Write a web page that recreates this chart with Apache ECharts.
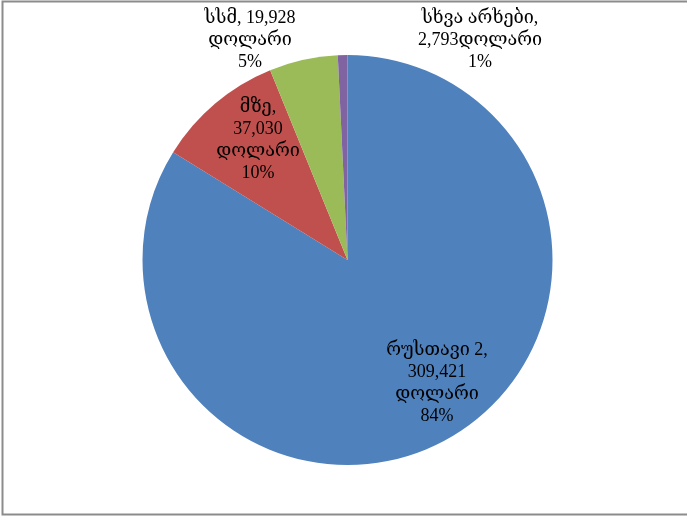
<!DOCTYPE html>
<html><head><meta charset="utf-8">
<script src="https://cdn.jsdelivr.net/npm/echarts@6/dist/echarts.min.js"></script>
<style>html,body{margin:0;padding:0;background:#fff}#c{width:687px;height:516px}</style>
</head><body><div id="c"></div>
<script>
const names = ["რუსთავი 2", "მზე", "სსმ", "სხვა არხები"];
const values = [309421, 37030, 19928, 2793];
const colors = ["#4F81BD", "#C0504D", "#9BBB59", "#8064A2"];
const currency = "დოლარი";

function fmt(v){ return v.toLocaleString('en-US'); }
const labelTemplates = [
  (n,v,p) => n + ",\n" + v + "\n" + currency + "\n" + p + "%",
  (n,v,p) => n + ",\n" + v + "\n" + currency + "\n" + p + "%",
  (n,v,p) => n + ", " + v + "\n" + currency + "\n" + p + "%",
  (n,v,p) => n + ",\n" + v + currency + "\n" + p + "%"
];
const labelPos = [[437,383],[258,140],[250,40],[480,40]];

const chart = echarts.init(document.getElementById('c'));
chart.setOption({
  animation:false,
  graphic:[
    {type:'polyline', shape:{points:[[687,1.5],[2.5,1.5],[2.5,514.5],[687,514.5]]}, style:{fill:null, stroke:'#8c8c8c', lineWidth:2}}
  ],
  series:[{
    type:'pie',
    center:[347.5,260],
    radius:[0,205],
    startAngle:90,
    clockwise:true,
    avoidLabelOverlap:false,
    data: names.map((n,i)=>({name:n, value:values[i], itemStyle:{color:colors[i]}})),
    label:{
      show:true,
      position:'inside',
      color:'#000',
      fontFamily:'"Liberation Serif", "DejaVu Serif", serif',
      fontSize:18,
      lineHeight:22,
      align:'center',
      formatter: p => labelTemplates[p.dataIndex](p.name, fmt(p.value), Math.round(p.percent))
    },
    labelLine:{show:false},
    labelLayout: p => ({x:labelPos[p.dataIndex][0], y:labelPos[p.dataIndex][1], align:'center', verticalAlign:'middle'})
  }]
});
</script></body></html>
